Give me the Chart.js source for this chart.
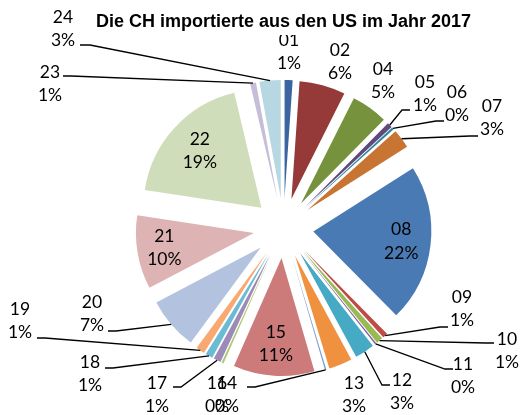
<!DOCTYPE html>
<html>
<head>
<meta charset="utf-8">
<script src="https://cdn.jsdelivr.net/npm/chart.js@4/dist/chart.umd.min.js"></script>
<style>
html,body{margin:0;padding:0;background:#fff;}
#wrap{width:521px;height:415px;position:relative;}
</style>
</head>
<body>
<div id="wrap"><canvas id="c" width="521" height="415"></canvas></div>
<script>
// ---- data ----
const categories = ['01','02','04','05','06','07','08','09','10','11','12','13','14','15','16','17','18','19','20','21','22','23','24'];
const shares     = [1.1, 6.3, 5.0, 0.7, 0.3, 2.6, 21.6, 0.7, 0.9, 0.2, 2.7, 3.2, 0.2, 11.1, 0.3, 1.0, 1.0, 1.2, 7.2, 10.1, 18.9, 0.8, 2.9];
const sliceColors = ['#3B65A0','#953A38','#76923C','#5F4A7C','#31859C','#C87533',
                     '#4A7AB4','#BE4B48','#98B954','#7D60A0','#46AAC5','#F0913F',
                     '#7F9FCF','#CC7B7A','#AFC97A','#9C8AB8','#6BBBD4','#F8A870',
                     '#B3C3DF','#DDB4B3','#CFDDBA','#C6BDD9','#B7D7E2'];
const titleText = 'Die CH importierte aus den US im Jahr 2017';

// ---- label layout (annotation placement, not data) ----
// outside: text centre x, first-line y, leader end [x,y], elbow x ; inside: fraction of radius
const labelLayout = [
  {x:289,y:40},
  {x:340,y:50},
  {x:383,y:69},
  {x:425,y:82, end:[410,110], elbow:402},
  {x:457,y:92, end:[444,121], elbow:436},
  {x:492,y:106,end:[478,136], elbow:470},
  {inside:0.75},
  {x:462,y:297,end:[448,327], elbow:440},
  {x:507,y:339,end:[494,343], elbow:486},
  {x:463,y:364,end:[453,369], elbow:445},
  {x:402,y:380,end:[390,385], elbow:382},
  {x:354,y:383},
  {x:227,y:383,end:[247,387], elbow:255},
  {inside:0.73},
  {x:217,y:383},
  {x:157,y:383,end:[173,387], elbow:181},
  {x:90, y:362,end:[105,368], elbow:113},
  {x:20, y:309,end:[37,338],  elbow:45},
  {x:92, y:302,end:[108,331], elbow:116},
  {inside:0.77},
  {inside:0.71},
  {x:50, y:72, end:[63,76],   elbow:71},
  {x:63, y:17, end:[80,45],   elbow:90}
];

const EXPLODE = 30;
const LINE_GAP = 23.5;
const total = shares.reduce((a,b)=>a+b,0);

Chart.defaults.font.family = 'Lato';

const explodePlugin = {
  id: 'explode',
  beforeDatasetDraw(chart, args) {
    const ctx = chart.ctx;
    args.meta.data.forEach(arc => {
      const mid = (arc.startAngle + arc.endAngle) / 2;
      ctx.save();
      ctx.translate(Math.cos(mid) * EXPLODE, Math.sin(mid) * EXPLODE);
      arc.draw(ctx);
      ctx.restore();
    });
    return false;
  }
};

const labelPlugin = {
  id: 'pieLabels',
  afterDatasetsDraw(chart) {
    const ctx = chart.ctx;
    const meta = chart.getDatasetMeta(0);
    ctx.save();
    ctx.font = '17.5px Lato';
    ctx.fillStyle = '#000';
    ctx.textAlign = 'center';
    ctx.textBaseline = 'middle';
    ctx.strokeStyle = '#000';
    ctx.lineWidth = 1.3;
    meta.data.forEach((arc, i) => {
      const mid = (arc.startAngle + arc.endAngle) / 2;
      const cx = arc.x + Math.cos(mid) * EXPLODE;
      const cy = arc.y + Math.sin(mid) * EXPLODE;
      const R = arc.outerRadius;
      const L = labelLayout[i];
      const pct = Math.round(shares[i] / total * 100) + '%';
      let tx, ty;
      if (L.inside) {
        tx = cx + Math.cos(mid) * R * L.inside;
        ty = cy + Math.sin(mid) * R * L.inside - LINE_GAP / 2;
      } else {
        tx = L.x; ty = L.y;
        if (L.end) {
          const ax = cx + Math.cos(mid) * R;
          const ay = cy + Math.sin(mid) * R;
          ctx.beginPath();
          ctx.moveTo(ax, ay);
          ctx.lineTo(L.elbow, L.end[1]);
          ctx.lineTo(L.end[0], L.end[1]);
          ctx.stroke();
        }
      }
      ctx.fillText(categories[i], tx, ty);
      ctx.fillText(pct, tx, ty + LINE_GAP);
    });
    ctx.restore();
  },
  afterDraw(chart) {
    const tb = chart.titleBlock;
    if (!tb) return;
    const ctx = chart.ctx;
    ctx.save();
    ctx.font = 'bold 18px "Liberation Sans"';
    const w = ctx.measureText(titleText).width;
    const xc = (tb.left + tb.right) / 2;
    ctx.fillStyle = '#fff';
    ctx.fillRect(xc - w / 2 - 3, 0, w + 6, 35);
    ctx.restore();
    tb.draw(chart.chartArea);
  }
};

new Chart(document.getElementById('c'), {
  type: 'pie',
  data: {
    labels: categories,
    datasets: [{
      data: shares,
      backgroundColor: sliceColors,
      borderWidth: 0
    }]
  },
  options: {
    responsive: false,
    animation: false,
    devicePixelRatio: 1,
    radius: 118,
    layout: { padding: { left: 46, right: 0, top: 0, bottom: 0 } },
    plugins: {
      legend: { display: false },
      tooltip: { enabled: false },
      title: {
        display: true,
        text: titleText,
        color: '#000',
        font: { family: 'Liberation Sans', size: 18, weight: 'bold' },
        padding: { top: 11, bottom: 8.4 }
      }
    }
  },
  plugins: [explodePlugin, labelPlugin]
});
</script>
</body>
</html>
